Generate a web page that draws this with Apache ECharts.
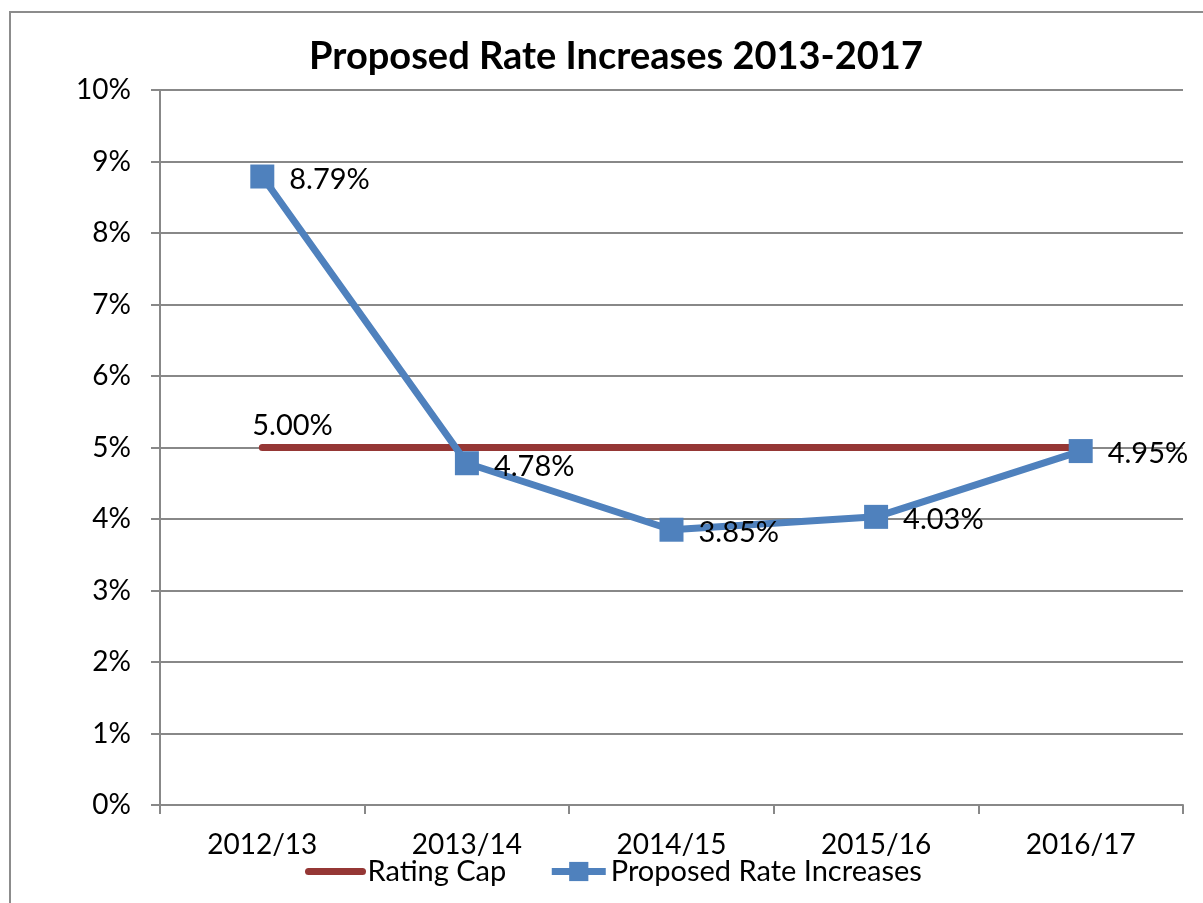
<!DOCTYPE html>
<html>
<head>
<meta charset="utf-8">
<script src="https://cdn.jsdelivr.net/npm/echarts@6/dist/echarts.min.js"></script>
<style>
  html, body { margin: 0; padding: 0; background: #fff; overflow: hidden; }
  #frame { position: absolute; left: 9px; top: 11px; width: 1220px; height: 920px; border: 2px solid #8c8c8c; }
  #main { position: absolute; left: 0; top: 0; width: 1203px; height: 903px; }
</style>
</head>
<body>
<div id="frame"></div>
<div id="main"></div>
<script>
const years = ["2012/13", "2013/14", "2014/15", "2015/16", "2016/17"]
const ratingCap = [5.0, 5.0, 5.0, 5.0, 5.0]
const proposed = [8.79, 4.78, 3.85, 4.03, 4.95]
const font = "Lato"

const chart = echarts.init(document.getElementById("main"))

chart.setOption({
  animation: false,
  title: {
    text: "Proposed Rate Increases 2013-2017",
    left: 611,
    top: 33,
    textAlign: "center",
    textStyle: { fontFamily: font, fontSize: 38, fontWeight: "bold", color: "#000" }
  },
  grid: { left: 160, right: 20, top: 90, bottom: 98 },
  legend: {
    left: 300,
    top: 852,
    itemWidth: 54,
    itemHeight: 24,
    itemGap: 42,
    lineStyle: { width: "inherit" },
    textStyle: { fontFamily: font, fontSize: 29, color: "#000" },
    data: [
      { name: "Rating Cap", itemStyle: { opacity: 0 } },
      { name: "Proposed Rate Increases" }
    ]
  },
  xAxis: {
    type: "category",
    data: years,
    boundaryGap: true,
    axisLine: { lineStyle: { color: "#888", width: 2 } },
    axisTick: { show: true, length: 9, lineStyle: { color: "#888", width: 2 } },
    axisLabel: { fontFamily: font, fontSize: 28, color: "#000", margin: 26 }
  },
  yAxis: {
    type: "value",
    min: 0,
    max: 10,
    interval: 1,
    axisLine: { show: true, lineStyle: { color: "#888", width: 2 } },
    axisTick: { show: true, length: 9, lineStyle: { color: "#888", width: 2 } },
    splitLine: { lineStyle: { color: "#888", width: 2 } },
    axisLabel: { formatter: "{value}%", fontFamily: font, fontSize: 28, color: "#000", margin: 29 }
  },
  series: [
    {
      name: "Rating Cap",
      type: "line",
      data: ratingCap.map((v, i) => i === 0
        ? { value: v, label: { show: true, position: "top", align: "left", offset: [-10, -2], formatter: (p) => p.value.toFixed(2) + "%" } }
        : v),
      symbol: "circle",
      symbolSize: 0,
      showSymbol: true,
      color: "#953735",
      lineStyle: { width: 7, cap: "round", color: "#953735" },
      label: { fontFamily: font, fontSize: 29, color: "#000" },
      z: 2
    },
    {
      name: "Proposed Rate Increases",
      type: "line",
      data: proposed,
      symbol: "rect",
      symbolSize: 24,
      showAllSymbol: true,
      color: "#4f81bd",
      itemStyle: { color: "#4f81bd" },
      lineStyle: { width: 7, color: "#4f81bd" },
      label: {
        show: true,
        position: "right",
        distance: 15,
        offset: [0, 3],
        fontFamily: font,
        fontSize: 29,
        color: "#000",
        formatter: (p) => p.value.toFixed(2) + "%"
      },
      z: 3
    }
  ]
})
</script>
</body>
</html>
